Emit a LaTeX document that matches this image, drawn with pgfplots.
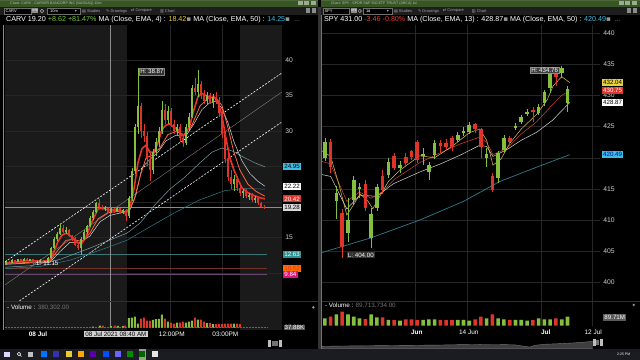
\documentclass[border=0pt]{standalone}
\usepackage{pgfplots}
\pgfplotsset{compat=1.18}
\usepackage{pgfplotstable}
\usepackage{fontspec}
\setmainfont{Liberation Sans}
\newfontfamily\symf{DejaVu Sans}
\newcommand{\fs}[1]{\fontsize{#1}{#1}\selectfont}

\definecolor{cgreen}{RGB}{132,192,62}
\definecolor{cred}{RGB}{222,52,42}
\definecolor{gridc}{RGB}{38,38,38}
\definecolor{sessc}{RGB}{26,26,26}
\definecolor{tickc}{RGB}{205,205,205}
\definecolor{emared}{RGB}{232,52,40}
\definecolor{emaorange}{RGB}{255,100,64}
\definecolor{emawhite}{RGB}{215,215,215}
\definecolor{emagray}{RGB}{120,160,168}
\definecolor{emateal}{RGB}{45,125,140}
\definecolor{emayellow}{RGB}{225,195,70}
\definecolor{emabrown}{RGB}{200,70,50}
\definecolor{lvteal}{RGB}{55,120,118}
\definecolor{lvorange}{RGB}{115,50,38}
\definecolor{lvmag}{RGB}{105,70,110}
\definecolor{crossc}{RGB}{140,140,140}
\definecolor{hgreen}{RGB}{120,200,60}
\definecolor{hred}{RGB}{230,60,50}
\definecolor{hyellow}{RGB}{230,210,60}
\definecolor{hcyan}{RGB}{60,190,230}
\definecolor{titlebar}{RGB}{56,86,36}
\definecolor{toolbar}{RGB}{30,30,30}
\definecolor{boxgray}{RGB}{110,110,110}
\definecolor{navfill}{RGB}{62,62,62}
\definecolor{navline}{RGB}{120,120,120}
\definecolor{taskc}{RGB}{26,28,33}
\definecolor{sepc}{RGB}{48,48,48}

% ---------- CARV 10 min candles (x = bar position) ----------
\pgfplotstableread{
x o h l c
6 11.30 11.80 11.20 11.60
12 11.40 11.90 11.35 11.80
18 11.60 12.00 11.55 11.90
24 11.70 12.10 11.65 12.00
30 11.80 12.00 11.75 11.95
40 11.60 11.90 11.55 11.80
48 11.60 12.20 11.55 12.10
51 12.10 13.70 12.00 13.50
54 13.50 15.00 13.30 14.80
57 14.80 15.70 14.50 15.50
60 15.50 16.90 15.30 16.30
66 15.80 16.40 15.50 16.10
81 13.50 15.00 12.50 14.80
84 14.80 16.00 14.60 15.80
87 15.80 16.80 15.50 16.60
90 16.60 18.00 16.40 17.80
93 17.80 18.80 17.50 18.60
96 18.60 20.00 18.40 19.80
105 19.00 19.40 18.70 19.20
111 18.60 19.20 18.50 19.00
117 18.70 19.30 18.60 19.10
123 18.50 19.00 18.30 18.90
129 18.00 20.80 17.80 20.50
132 20.50 24.80 20.20 24.40
135 24.40 31.00 24.00 30.60
138 30.60 38.87 29.50 33.50
153 24.50 27.50 24.00 27.00
156 27.00 29.00 26.50 28.50
159 28.50 30.50 27.80 30.00
162 30.00 34.20 29.50 33.00
168 31.50 33.50 31.00 32.80
177 30.00 31.00 29.30 30.60
186 28.30 31.00 28.00 30.60
189 30.60 32.50 30.20 32.00
192 32.00 36.50 31.80 36.00
198 35.50 38.60 34.80 36.60
207 34.20 35.50 33.60 35.00
213 34.00 35.20 33.20 34.80
234 22.50 23.80 21.50 23.20
243 21.20 21.80 20.60 21.50
249 20.80 21.30 20.30 21.00
255 20.30 20.80 19.90 20.50
}\leftUp
\pgfplotstableread{
x o h l c
9 11.60 11.70 11.30 11.40
15 11.80 11.85 11.50 11.60
21 11.90 11.95 11.60 11.70
27 12.00 12.05 11.70 11.80
33 11.95 12.00 11.15 11.70
36 11.70 11.80 11.50 11.60
44 11.80 11.85 11.50 11.60
63 16.30 16.80 15.60 15.80
69 16.10 16.20 15.00 15.20
72 15.20 15.40 14.50 14.80
75 14.80 15.00 13.80 14.00
78 14.00 14.30 13.20 13.50
99 19.80 20.40 19.00 19.30
102 19.30 19.60 18.80 19.00
108 19.20 19.30 18.40 18.60
114 19.00 19.20 18.50 18.70
120 19.10 19.20 18.30 18.50
126 18.90 19.00 17.30 18.00
141 33.50 34.00 29.00 30.00
144 30.00 31.00 28.50 29.30
147 29.30 29.80 25.00 26.00
150 26.00 27.00 23.00 24.50
165 33.00 33.80 31.00 31.50
171 32.80 33.20 30.50 31.00
174 31.00 31.50 29.50 30.00
180 30.60 31.00 28.50 29.00
183 29.00 29.50 27.80 28.30
195 36.00 37.50 35.00 35.50
201 36.60 37.00 34.50 35.00
204 35.00 35.80 33.80 34.20
210 35.00 35.40 33.80 34.00
216 34.80 35.50 33.80 34.20
219 34.20 34.80 32.00 32.50
222 32.50 33.00 29.00 29.50
225 29.50 30.00 25.50 26.00
228 26.00 26.80 23.00 23.50
231 23.50 24.50 21.80 22.50
237 23.20 23.60 21.50 22.00
240 22.00 22.50 20.80 21.20
246 21.50 21.80 20.50 20.80
252 21.00 21.20 20.00 20.30
258 20.50 20.60 19.60 19.80
261 19.80 20.00 19.20 19.30
264 19.30 19.50 19.00 19.20
}\leftDown

% ---------- SPY daily candles (x = session index) ----------
\pgfplotstableread{
x o h l c
0 420.0 423.2 419.5 422.5
2 413.0 415.5 410.2 414.4
4 408.0 413.5 406.5 410.0
5 413.2 417.0 412.5 416.4
6 415.0 416.0 413.5 415.3
8 407.2 412.0 405.5 411.0
9 412.0 415.8 411.5 415.3
11 417.3 420.0 416.8 419.3
13 418.4 419.4 417.6 418.8
17 420.4 421.5 418.8 420.6
18 417.7 419.3 416.4 418.8
19 420.4 422.9 419.8 422.4
23 422.9 424.1 422.5 423.7
24 424.0 425.0 423.5 424.3
25 424.2 425.8 423.8 425.3
28 420.0 421.5 418.5 420.6
30 416.8 421.0 416.0 420.8
31 421.3 423.6 420.8 423.2
33 424.9 425.5 424.5 425.1
34 425.7 426.9 425.4 426.5
35 427.1 427.8 426.7 427.3
37 427.2 428.6 426.9 428.1
38 428.8 430.9 428.3 430.5
39 431.2 434.0 430.3 433.6
41 433.6 434.76 432.8 434.4
42 428.8 431.5 427.3 431.0
}\spyUp
\pgfplotstableread{
x o h l c
1 422.5 423.0 417.5 418.5
3 411.2 411.8 404.0 405.7
7 415.8 416.4 411.5 412.0
10 417.0 418.0 414.2 414.8
12 420.3 420.8 418.0 418.4
14 420.1 420.7 418.5 419.2
15 421.0 421.3 419.6 420.1
16 422.5 422.8 419.2 419.6
20 422.3 422.8 420.8 421.8
21 422.4 423.0 421.2 421.7
22 423.2 423.5 421.0 421.7
26 425.4 425.6 424.0 424.6
27 424.6 424.8 420.0 421.7
29 417.0 417.5 414.5 414.8
32 423.2 423.5 422.0 422.5
36 427.6 428.2 425.8 427.4
40 433.6 434.1 431.5 433.0
}\spyDown

\newcommand{\candles}[4]{%
 \addplot[draw=none, mark=none, forget plot, error bars/.cd, y dir=both, y explicit, error mark=none,
   error bar style={draw=#2, line width=#4}]
   table[x=x, y expr={(\thisrow{h}+\thisrow{l})/2}, y error expr={(\thisrow{h}-\thisrow{l})/2}] {#1};
 \addplot[draw=none, mark=none, forget plot, error bars/.cd, y dir=both, y explicit, error mark=none,
   error bar style={draw=#2, line width=#3}]
   table[x=x, y expr={(\thisrow{o}+\thisrow{c})/2}, y error expr={max(abs(\thisrow{c}-\thisrow{o})/2,0.08)}] {#1};
}

\pgfplotsset{
 chartax/.style={scale only axis, anchor=south west,
   axis line style={draw=none}, tick style={draw=none},
   major grid style={draw=gridc, line width=0.4bp},
   tick label style={font=\fs{6.8}, text=tickc},
   /pgf/number format/assume math mode=true,
   xticklabels={}},
}
\tikzset{pbox/.style={anchor=west, font=\fs{6.2}, inner xsep=1.3bp, inner ysep=1.1bp, minimum height=7bp}}

\begin{document}
\begin{tikzpicture}
\begin{scope}[x=1bp,y=1bp]
\useasboundingbox (0,0) rectangle (640,360);
\fill[black] (0,0) rectangle (640,360);
% session shading (pre-market / after-hours)
\fill[sessc] (5,30) rectangle (127,335);
\fill[sessc] (240,30) rectangle (282,335);
\end{scope}

% ================= LEFT: CARV price =================
\begin{axis}[chartax, at={(5bp,59bp)}, width=277bp, height=276bp,
  xmin=5, xmax=282, ymin=6.06, ymax=44.93,
  xtick={170,222}, xmajorgrids,
  ytick={10,15,20,25,30,35,40}, yticklabels={,15,,,30,35,40}, ymajorgrids,
  ytick pos=right, yticklabel pos=right]
 \addplot[lvteal, line width=0.45bp] coordinates {(5,12.63)(267,12.63)};
 \addplot[lvorange, line width=0.45bp] coordinates {(5,10.62)(267,10.62)};
 \addplot[lvmag, line width=0.45bp] coordinates {(5,9.84)(267,9.84)};
 \addplot[crossc, line width=0.45bp] coordinates {(5,19.28)(282,19.28)};
 \addplot[crossc, line width=0.45bp] coordinates {(110,6.06)(110,44.93)};
 \addplot[white, line width=0.6bp, dash pattern=on 2bp off 1.5bp] coordinates {(5,11.55)(282,38.17)};
 \addplot[gray, line width=0.4bp] coordinates {(5,8.31)(282,35.49)};
 \addplot[white, line width=0.6bp, dash pattern=on 2bp off 1.5bp] coordinates {(19.5,6.06)(282,31.27)};
 \addplot[emateal, line width=0.5bp] coordinates {(5,10.6)(40,10.9)(70,11.8)(100,13.2)(127,14.6)(150,16.5)(175,18.5)(200,20.3)(225,21.6)(245,21.9)(265,21.8)};
 \addplot[emagray, line width=0.5bp] coordinates {(5,10.8)(30,11.0)(60,11.9)(90,13.5)(127,15.6)(140,17.0)(155,19.6)(170,21.8)(185,23.5)(200,25.5)(212,27.0)(222,27.6)(232,27.2)(245,26.2)(255,25.5)(265,24.95)};
 \addplot[emawhite, line width=0.5bp] coordinates {(5,11.2)(30,11.4)(50,11.5)(60,13.0)(70,14.3)(80,14.3)(90,15.2)(100,17.2)(110,18.1)(122,18.5)(130,18.9)(136,21.0)(142,24.8)(150,26.0)(158,27.0)(166,28.6)(176,29.4)(186,29.3)(194,31.0)(202,33.0)(210,34.0)(216,34.2)(222,33.2)(228,31.2)(234,28.5)(242,25.8)(250,24.0)(258,22.9)(265,22.22)};
 \addplot[emaorange, line width=0.8bp, line join=round] coordinates {(5,11.3)(30,11.5)(50,11.7)(58,13.2)(66,14.6)(74,14.7)(82,14.4)(90,15.6)(98,17.6)(108,18.5)(120,18.7)(128,18.6)(134,20.2)(140,23.5)(146,26.2)(152,26.6)(160,27.6)(168,29.5)(176,29.9)(184,29.5)(192,30.8)(200,33.5)(208,34.6)(216,34.7)(222,33.6)(228,30.5)(234,27.0)(240,24.5)(248,22.5)(256,21.5)(265,20.8)};
 \addplot[emared, line width=1.6bp, line join=round] coordinates {(5,11.4)(15,11.5)(25,11.7)(35,11.7)(45,11.6)(50,11.9)(54,13.0)(58,14.4)(62,15.3)(66,15.6)(70,15.3)(74,14.8)(78,14.2)(82,14.2)(86,15.0)(90,16.5)(94,17.8)(98,19.0)(102,19.1)(108,18.9)(114,18.9)(120,18.8)(126,18.4)(130,19.3)(134,21.8)(138,25.5)(142,27.5)(146,28.0)(150,27.0)(154,27.0)(158,28.3)(162,30.2)(166,30.8)(170,31.0)(174,30.5)(178,30.2)(182,29.3)(186,29.6)(190,30.8)(194,33.0)(198,34.8)(202,35.3)(206,35.0)(210,34.7)(214,34.8)(218,34.2)(222,32.2)(226,29.0)(230,26.2)(234,24.5)(238,23.2)(242,22.0)(248,21.3)(254,20.9)(260,20.6)(265,20.42)};
 \candles{\leftUp}{cgreen}{2bp}{0.5bp}
 \candles{\leftDown}{cred}{2bp}{0.5bp}
 \coordinate (a1) at (axis cs:282,24.95);
 \coordinate (a2) at (axis cs:282,22.22);
 \coordinate (a3) at (axis cs:282,20.42);
 \coordinate (a4) at (axis cs:282,19.28);
 \coordinate (a5) at (axis cs:282,12.63);
 \coordinate (a6) at (axis cs:282,10.62);
 \coordinate (a7) at (axis cs:282,9.84);
 \coordinate (hl) at (axis cs:152,38.38);
 \coordinate (ll) at (axis cs:47.5,11.27);
\end{axis}

% ================= LEFT: CARV volume =================
\begin{axis}[chartax, at={(5bp,32.3bp)}, width=277bp, height=25.7bp,
  xmin=5, xmax=282, ymin=0, ymax=771,
  xtick={170,222}, xmajorgrids, ytick=\empty]
 \addplot[cred, densely dotted, line width=0.5bp] coordinates {(5,12)(267,12)};
 \addplot[crossc, line width=0.45bp] coordinates {(110,0)(110,771)};
 \addplot[ybar, bar width=2bp, bar shift=0pt, fill=cgreen, draw=none] coordinates {
  (93,30)(100,60)(111,40)(118,50)(123,45)
  (129,280)(132,300)(135,330)(138,120)(153,230)(156,250)(159,260)(162,390)(168,180)
  (177,150)(186,150)(189,180)(192,210)(198,240)(207,130)(213,100)(234,120)};
 \addplot[ybar, bar width=2bp, bar shift=0pt, fill=cred, draw=none] coordinates {
  (103,60)(115,55)(125,60)
  (141,270)(144,300)(147,210)(150,200)(165,270)(171,150)(174,120)(180,150)(183,180)
  (195,300)(201,240)(204,180)(210,130)(216,100)(219,100)(222,100)(225,120)(228,120)
  (231,120)(237,120)(240,100)};
\end{axis}

% ================= RIGHT: SPY price =================
\begin{axis}[chartax, at={(322bp,59bp)}, width=278bp, height=276bp,
  xmin=-0.52, xmax=47.58, ymin=397.05, ymax=441.28,
  xtick={15.6,24.6,37.5,46.2}, xmajorgrids,
  ytick={400,405,410,415,420,425,430,435,440},
  yticklabels={400,405,410,415,,425,430,435,440}, ymajorgrids,
  ytick pos=right, yticklabel pos=right]
 \addplot[emateal, line width=0.7bp] coordinates {(-0.5,404.8)(7.8,407.1)(16.4,410.0)(24,413.0)(30.3,416.2)(36.7,418.5)(42.4,420.49)};
 \addplot[emawhite, line width=0.5bp] coordinates {(-0.5,417.3)(1,417.0)(3.8,411.8)(6.1,414.0)(9,413.8)(11.8,415.8)(16.4,417.7)(20,419.0)(23.4,420.4)(26.8,422.0)(28,421.8)(29.1,420.2)(31.5,421.3)(34,422.8)(36.7,424.1)(39.4,426.0)(42.4,428.87)};
 \addplot[emabrown, line width=0.5bp] coordinates {(-0.5,419.4)(1,419.0)(3.8,413.0)(6,414.5)(8,413.5)(10,414.6)(12,416.5)(16.4,419.2)(20,420.8)(23.4,422.2)(26.8,423.3)(28,422.5)(29.1,420.5)(31.5,421.5)(34,423.8)(36.7,425.8)(39.4,428.5)(41,430.0)(42.4,430.75)};
 \addplot[emayellow, line width=0.5bp] coordinates {(-0.5,421.1)(1,420.2)(2.5,415.5)(3.8,410.8)(5,412.5)(6.1,414.2)(7.5,413.0)(8.3,411.8)(9.5,413.8)(11,416.2)(13,418.0)(16.4,420.3)(19,420.0)(22,421.8)(25,424.0)(26.8,424.6)(28,422.8)(29.1,418.8)(30.5,419.8)(32,422.3)(34,424.6)(36.7,427.0)(38.5,429.3)(39.5,431.5)(41,433.0)(42.4,432.04)};
 \candles{\spyUp}{cgreen}{3.6bp}{0.6bp}
 \candles{\spyDown}{cred}{3.6bp}{0.6bp}
 \coordinate (b1) at (axis cs:47.58,432.04);
 \coordinate (b2) at (axis cs:47.58,430.75);
 \coordinate (b3) at (axis cs:47.58,428.87);
 \coordinate (b4) at (axis cs:47.58,420.49);
 \coordinate (hs) at (axis cs:38.06,434.07);
 \coordinate (ls) at (axis cs:6.23,404.4);
\end{axis}

% ================= RIGHT: SPY volume =================
\begin{axis}[chartax, at={(322bp,34.3bp)}, width=278bp, height=23.7bp,
  xmin=-0.52, xmax=47.58, ymin=0, ymax=237,
  xtick={15.6,24.6,37.5,46.2}, xmajorgrids, ytick=\empty]
 \addplot[ybar, bar width=3.6bp, bar shift=0pt, fill=cgreen, draw=none] coordinates {
  (0,73)(2,113)(4,113)(5,90)(6,73)(8,113)(9,83)(11,57)(13,50)(17,57)(18,63)(19,63)
  (23,57)(24,57)(25,50)(28,73)(30,73)(31,63)(33,57)(34,57)(35,50)(37,73)(38,63)(39,63)(41,63)(42,90)};
 \addplot[ybar, bar width=3.6bp, bar shift=0pt, fill=cred, draw=none] coordinates {
  (1,90)(3,140)(7,67)(10,83)(12,57)(14,63)(15,63)(16,57)(20,57)(21,57)(22,57)(26,63)
  (27,90)(29,113)(32,57)(36,57)(40,73)};
\end{axis}

% ================= navigator =================
\begin{axis}[scale only axis, anchor=south west, at={(322bp,11bp)}, width=271bp, height=12bp,
  xmin=322, xmax=593, ymin=0, ymax=12, axis lines=none]
 \addplot[fill=navfill, draw=navline, line width=0.4bp] coordinates {(322,2.5)(340,2.8)(360,3.0)(380,3.2)(400,3.4)(420,3.6)(440,3.8)(460,4.2)(480,4.4)(500,4.3)(515,4.0)(525,2.5)(530,1.8)(535,3.5)(545,4.6)(560,5.2)(575,6.0)(585,6.8)(593,7.5)} \closedcycle;
\end{axis}

% ---------- price label boxes ----------
\node[pbox, fill=hcyan, text=black] at ([xshift=1bp]a1) {24.95};
\node[pbox, fill=white, text=black] at ([xshift=1bp]a2) {22.22};
\node[pbox, fill=cred, text=white] at ([xshift=1bp]a3) {20.42};
\node[pbox, fill=black!15, text=black] at ([xshift=1bp]a4) {19.28};
\node[pbox, fill=lvteal!80!cyan, text=white] at ([xshift=1bp]a5) {12.63};
\node[pbox, fill=orange!85!red, text=cred] at ([xshift=1bp]a6) {10.62};
\node[pbox, fill=magenta!75!purple, text=white] at ([xshift=1bp]a7) {9.84};
\node[pbox, fill=hyellow, text=black] at ([xshift=2bp]b1) {432.04};
\node[pbox, fill=cred, text=white] at ([xshift=2bp]b2) {430.75};
\node[pbox, fill=white, text=black] at ([xshift=2bp]b3) {428.87};
\node[pbox, fill=hcyan, text=blue!60!black] at ([xshift=2bp]b4) {420.49};
\node[font=\fs{6.2}, fill=black!80, draw=black!50, line width=0.3bp, text=white, inner sep=1bp] at (hl) {H: 38.87};
\node[font=\fs{6.2}, text=white, inner sep=0.8bp] at (ll) {L: 11.15};
\node[font=\fs{6.2}, fill=black!75, draw=black!45, line width=0.3bp, text=white, inner sep=1bp] at (hs) {H: 434.76};
\node[font=\fs{6.2}, fill=black!80, text=white, inner sep=1bp] at (ls) {L: 404.00};

\begin{scope}[x=1bp,y=1bp]
% ---------- pane separators / borders ----------
\draw[sepc, line width=0.6bp] (3,58.5) -- (318,58.5);
\draw[sepc, line width=0.6bp] (322,58.5) -- (640,58.5);
\draw[black!45, line width=0.6bp] (3,30) -- (3,335);
\fill[black!80] (318,11) rectangle (321.5,353);
\draw[black!55, line width=0.6bp] (321,11) -- (321,345);

% ---------- header ----------
\fill[titlebar] (0,353) rectangle (318,360);
\fill[titlebar] (321.5,353) rectangle (640,360);
\fill[titlebar!70!white, opacity=0.35] (0,358.5) rectangle (318,360);
\fill[titlebar!70!white, opacity=0.35] (321.5,358.5) rectangle (640,360);
\node[anchor=west, font=\fs{3.6}, text=black!25, inner sep=0] at (10,356.2) {Chart: CARV - CARVER BANCORP INC (NASDAQ) 10m};
\node[anchor=west, font=\fs{3.6}, text=black!25, inner sep=0] at (331,356.2) {Chart: SPY - SPDR S\&P 500 ETF TRUST (ARCA) 1d};
\foreach \xx in {298,304.5,311} {\fill[titlebar!50!white] (\xx,354.5) rectangle ++(5,4);}
\foreach \xx in {619,625.5,632} {\fill[titlebar!50!white] (\xx,354.5) rectangle ++(5,4);}
\fill[toolbar] (0,345) rectangle (318,353);
\fill[toolbar] (321.5,345) rectangle (640,353);
% left toolbar
\draw[boxgray, fill=black, line width=0.3bp] (4,346.3) rectangle (31,351.7);
\node[anchor=west, font=\fs{4}, text=white, inner sep=0] at (5.5,349) {CARV};
\fill[black!45] (32,346.5) rectangle (38.5,351.5);
\node[font=\fs{2.8}, text=white, inner sep=0] at (35.25,349) {ETB};
\draw[black!30, line width=0.5bp] (42,349) circle (1.7);
\draw[boxgray, fill=black, line width=0.3bp] (47,346.3) rectangle (80,351.7);
\node[anchor=west, font=\fs{4}, text=white, inner sep=0] at (50,349) {10m};
\node[font=\symf\fs{4}, text=black!30, inner sep=0] at (76,349) {▾};
\node[anchor=west, font=\fs{4}, text=black!35, inner sep=0] at (82,349) {{\symf▤} Studies};
\node[anchor=west, font=\fs{4}, text=black!35, inner sep=0] at (106,349) {{\symf✎} Drawings};
\node[anchor=west, font=\fs{4}, text=black!35, inner sep=0] at (131,349) {{\symf⇄} Compare};
\node[anchor=west, font=\fs{4}, text=black!35, inner sep=0] at (160,349) {{\symf▥} Chart};
\fill[black!45] (306,346.5) rectangle (310.5,351.5);
\fill[black!45] (312,346.5) rectangle (316.5,351.5);
% right toolbar
\draw[boxgray, fill=black, line width=0.3bp] (323,346.3) rectangle (349,351.7);
\node[anchor=west, font=\fs{4}, text=white, inner sep=0] at (324.5,349) {SPY};
\fill[black!45] (351,346.5) rectangle (357.5,351.5);
\node[font=\fs{2.8}, text=white, inner sep=0] at (354.25,349) {ETB};
\draw[black!30, line width=0.5bp] (360,349) circle (1.7);
\draw[boxgray, fill=black, line width=0.3bp] (363,346.3) rectangle (392,351.7);
\node[anchor=west, font=\fs{4}, text=white, inner sep=0] at (366,349) {1d};
\node[font=\symf\fs{4}, text=black!30, inner sep=0] at (388,349) {▾};
\node[anchor=west, font=\fs{4}, text=black!35, inner sep=0] at (394,349) {{\symf▤} Studies};
\node[anchor=west, font=\fs{4}, text=black!35, inner sep=0] at (418,349) {{\symf✎} Drawings};
\node[anchor=west, font=\fs{4}, text=black!35, inner sep=0] at (443,349) {{\symf⇄} Compare};
\node[anchor=west, font=\fs{4}, text=black!35, inner sep=0] at (472,349) {{\symf▥} Chart};
\fill[black!45] (627,346.5) rectangle (631.5,351.5);
\fill[black!45] (633,346.5) rectangle (637.5,351.5);
% info lines
\node[anchor=west, font=\fs{7.2}, text=white, inner sep=0] at (6,340.5)
 {CARV 19.20 \textcolor{hgreen}{+8.62 +81.47\%} MA (Close, EMA, 4) : \textcolor{hyellow}{18.42}{\symf\textcolor{black!40}{▪}} MA (Close, EMA, 50) : \textcolor{hcyan}{14.25}{\symf\textcolor{black!40}{▪}}\ \ \textcolor{black!50}{...}};
\node[anchor=west, font=\fs{7.2}, text=white, inner sep=0] at (324,340.5)
 {SPY 431.00 \textcolor{hred}{-3.46 -0.80\%} MA (Close, EMA, 13) : 428.87{\symf\textcolor{black!40}{▪}} MA (Close, EMA, 50) : \textcolor{hcyan}{420.49}{\symf\textcolor{black!40}{▪}}\ \ \textcolor{black!50}{...}};

% ---------- volume captions ----------
\node[anchor=west, font=\fs{6.3}, text=white, inner sep=0] at (7,52.5) {- Volume : \textcolor{black!55}{380,302.00}};
\node[anchor=west, font=\fs{6.3}, text=white, inner sep=0] at (325,54.5) {- Volume : \textcolor{black!55}{89,713,734.00}};
\fill[black!40] (313.5,52.5) circle (1.3);
\fill[black!40] (634,55) circle (1.3);
\node[font=\fs{6.2}, fill=black!65, text=white, inner sep=1bp] at (615,42.5) {89.71M};
\begin{scope}
 \clip (282,30) rectangle (318,35.5);
 \node[font=\fs{6.2}, fill=black!65, text=white, inner sep=1bp] at (294.5,32) {37.88K};
\end{scope}

% ---------- time axis labels ----------
\node[font=\bfseries\fs{6.5}, text=white] at (38,26) {08 Jul};
\node[font=\fs{6.3}, fill=black!18, text=black, inner xsep=1.2bp, inner ysep=1bp] at (116,26) {08 Jul 2021 08:40 AM};
\node[font=\fs{6.5}, text=white] at (172,26) {12:00PM};
\node[font=\fs{6.5}, text=white] at (225.5,26) {03:00PM};
\node[font=\bfseries\fs{6.5}, text=white] at (417,27.3) {Jun};
\node[font=\fs{6.5}, text=white] at (469,27.3) {14 Jun};
\node[font=\bfseries\fs{6.5}, text=white] at (546,27.3) {Jul};
\node[font=\fs{6.5}, text=white] at (593.5,27.3) {12 Jul};

% ---------- scroll handles ----------
\fill[black!25] (268,13) rectangle (271,19.5);
\fill[black!55] (272,14) rectangle (278,18.5);
\fill[black!25] (279,13) rectangle (282,19.5);
\fill[black!25] (593,13.5) rectangle (596,21);
\fill[black!55] (596.5,14.5) rectangle (599.5,20);
\fill[black!25] (600,13.5) rectangle (603,21);

% ---------- taskbar ----------
\fill[taskc] (0,0) rectangle (640,11);
\fill[black!40] (139,0.5) rectangle (146,10.5);
\draw[cgreen, line width=0.6bp] (139,0.6) -- (146,0.6);
\foreach \xx in {4.5,7.3} {\foreach \yy in {3,5.8} {\fill[white!85!blue] (\xx,\yy) rectangle ++(2.4,2.4);}}
\draw[white, line width=0.5bp] (19,5.8) circle (1.8);
\draw[white, line width=0.5bp] (20.3,4.5) -- (21.5,3.2);
\fill[black!25] (28.5,3) rectangle (33.5,8);
\fill[blue!55!cyan] (41,3) rectangle (47,9);
\fill[blue!60!black!80!white] (53,3) rectangle (59,9);
\fill[yellow!60!brown] (66,3) rectangle (72,9);
\fill[orange!70!yellow] (78,3) rectangle (84,8.5);
\fill[violet!70!blue] (90,3) rectangle (96,9);
\fill[blue!70!cyan] (103,3) rectangle (109,9);
\fill[blue!60!white] (115,3) rectangle (121,9);
\fill[green!55!black] (127,3) rectangle (133,9);
\fill[green!40!black] (139.5,3) rectangle (145.5,9);
\fill[black!10] (152,3) rectangle (158,9);
\node[font=\fs{3.5}, text=white, inner sep=0] at (624,5.5) {2:25 PM};
\end{scope}
\end{tikzpicture}
\end{document}
